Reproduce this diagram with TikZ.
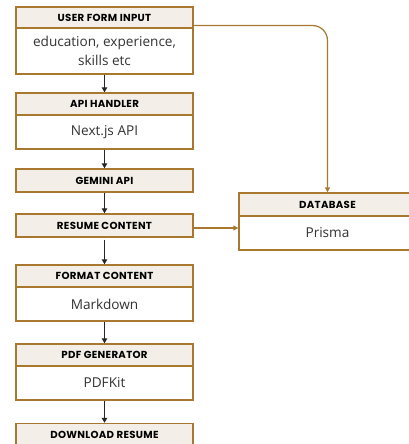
\documentclass[tikz,border=0pt]{standalone}
\usepackage{fontspec}
\setmainfont{Open Sans}
\newfontfamily\hdfont{Poppins}[UprightFont=* Bold,LetterSpace=3]
\usetikzlibrary{arrows.meta}
\definecolor{brn}{HTML}{A8782F}
\definecolor{hdfill}{HTML}{F3EFE8}
\definecolor{txt}{HTML}{333333}
\begin{document}
\begin{tikzpicture}[x=1pt,y=-1pt,
  hd/.style={draw=brn,line width=1.4pt,fill=hdfill,minimum width=177pt,inner sep=0pt,
    font=\hdfont\fontsize{10.2}{12}\selectfont,text=black},
  bd/.style={draw=brn,line width=1.4pt,fill=white,minimum width=177pt,inner sep=0pt,
    font=\fontsize{13.6}{18.5}\selectfont,text=txt,align=center},
  flow/.style={draw=black!85,line width=1.3pt,-{Triangle[length=5pt,width=5.5pt]}},
  link/.style={draw=brn,line width=1.2pt,-{Triangle[length=5pt,width=5pt]}}]
\useasboundingbox (0,0) rectangle (409,444);
\clip (0,0) rectangle (409,444);
% user form input
\node[hd,minimum height=21pt] (ufh) at (104.5,17.5) {USER FORM INPUT};
\node[bd,minimum height=46pt] (ufb) at (104.5,51) {education, experience,\\skills etc};
% api handler
\node[hd,minimum height=22pt] (ahh) at (104.5,104) {API HANDLER};
\node[bd,minimum height=34pt] (ahb) at (104.5,132) {Next.js API};
% gemini
\node[hd,minimum height=23pt] (gem) at (104.5,180.5) {GEMINI API};
% resume content
\node[hd,minimum height=23pt] (rc) at (104.5,225.5) {RESUME CONTENT};
% format content
\node[hd,minimum height=22pt] (fch) at (104.5,276) {FORMAT CONTENT};
\node[bd,minimum height=34pt] (fcb) at (104.5,304) {Markdown};
% pdf generator
\node[hd,minimum height=22pt] (pgh) at (104.5,355) {PDF GENERATOR};
\node[bd,minimum height=34pt] (pgb) at (104.5,383) {PDFKit};
% download
\node[hd,minimum height=22pt] (drh) at (104.5,434.5) {DOWNLOAD RESUME};
% database
\node[hd,minimum height=23pt] (dbh) at (327.5,204.5) {DATABASE};
\node[bd,minimum height=34pt] (dbb) at (327.5,233) {Prisma};
% flow arrows
\draw[flow] (ufb.south) -- (ahh.north);
\draw[flow] (ahb.south) -- (gem.north);
\draw[flow] (gem.south) -- (rc.north);
\draw[flow] ([yshift=-2pt]rc.south) -- (fch.north);
\draw[flow] (fcb.south) -- (pgh.north);
\draw[flow] (pgb.south) -- (drh.north);
% links to database
\coordinate (c1) at (ufh.east |- 0,25.5);
\draw[link,rounded corners=15pt] (c1) -- (dbh.north |- c1) -- (dbh.north);
\coordinate (c2) at (rc.east |- 0,228);
\draw[link] (c2) -- (dbh.west |- c2);
\end{tikzpicture}
\end{document}
